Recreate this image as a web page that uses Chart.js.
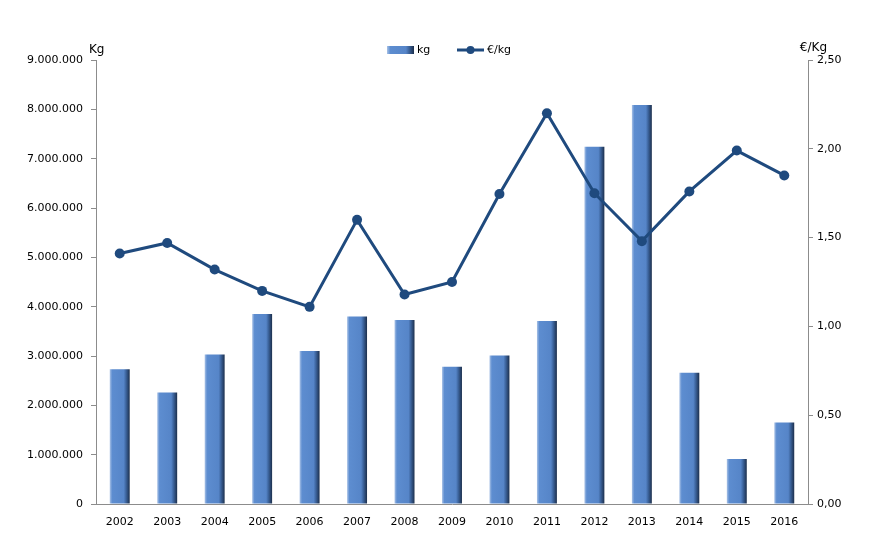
<!DOCTYPE html>
<html>
<head>
<meta charset="utf-8">
<script src="https://cdn.jsdelivr.net/npm/chart.js@4/dist/chart.umd.min.js"></script>
<style>
  html, body { margin: 0; padding: 0; background: #ffffff; }
  #wrap { width: 892px; height: 560px; }
</style>
</head>
<body>
<div id="wrap"><canvas id="c" width="892" height="560"></canvas></div>
<script>
const years = ['2002','2003','2004','2005','2006','2007','2008','2009','2010','2011','2012','2013','2014','2015','2016'];
const kg = [2730000, 2260000, 3030000, 3850000, 3100000, 3800000, 3730000, 2780000, 3010000, 3710000, 7240000, 8090000, 2660000, 910000, 1650000];
const eurPerKg = [1.41, 1.47, 1.32, 1.20, 1.11, 1.60, 1.18, 1.25, 1.745, 2.20, 1.75, 1.48, 1.76, 1.99, 1.85];
const leftTitle = 'Kg';
const rightTitle = '€/Kg';
const seriesNames = ['kg', '€/kg'];

const FONT = '"DejaVu Sans", Verdana, sans-serif';
const LINE_COLOR = '#1f4a7e';
const AXIS_COLOR = '#8c8c8c';

function barGradient(ctx, x0, x1) {
  const g = ctx.createLinearGradient(x0, 0, x1, 0);
  g.addColorStop(0, '#a9c2e6');
  g.addColorStop(0.12, '#5d8dd0');
  g.addColorStop(0.7, '#5685c8');
  g.addColorStop(0.82, '#3b629a');
  g.addColorStop(1, '#1c2f4c');
  return g;
}

const fmtThousands = v => {
  const s = Math.round(v).toString();
  return s.replace(/\B(?=(\d{3})+(?!\d))/g, '.');
};
const fmtComma = v => v.toFixed(2).replace('.', ',');

const overlay = {
  id: 'overlay',
  afterDraw(chart) {
    const c = chart.ctx;
    const a = chart.chartArea;
    c.save();
    c.fillStyle = '#000';
    c.font = '12px ' + FONT;
    c.textBaseline = 'bottom';
    c.textAlign = 'left';
    c.fillText(leftTitle, a.left - 7, a.top - 4);
    c.textAlign = 'right';
    c.fillText(rightTitle, a.right + 19, a.top - 6);
    // legend
    const ly = 50;
    const bx = 387;
    c.fillStyle = barGradient(c, bx, bx + 27);
    c.fillRect(bx, ly - 4, 27, 8);
    c.fillStyle = '#000';
    c.font = '11px ' + FONT;
    c.textAlign = 'left';
    c.textBaseline = 'middle';
    c.fillText(seriesNames[0], bx + 30, ly);
    const lx = 457;
    c.strokeStyle = LINE_COLOR;
    c.lineWidth = 3;
    c.beginPath();
    c.moveTo(lx, ly);
    c.lineTo(lx + 27, ly);
    c.stroke();
    c.fillStyle = LINE_COLOR;
    c.beginPath();
    c.arc(lx + 13.5, ly, 4, 0, Math.PI * 2);
    c.fill();
    c.fillStyle = '#000';
    c.fillText(seriesNames[1], lx + 30, ly);
    c.restore();
  }
};

new Chart(document.getElementById('c'), {
  data: {
    labels: years,
    datasets: [
      {
        type: 'line',
        label: seriesNames[1],
        data: eurPerKg,
        yAxisID: 'y2',
        borderColor: LINE_COLOR,
        backgroundColor: LINE_COLOR,
        borderWidth: 3,
        pointRadius: 5,
        pointHoverRadius: 5,
        pointBackgroundColor: LINE_COLOR,
        pointBorderWidth: 0,
        tension: 0,
        order: 0
      },
      {
        type: 'bar',
        label: seriesNames[0],
        data: kg,
        yAxisID: 'y',
        barPercentage: 0.42,
        categoryPercentage: 1,
        borderWidth: 0,
        backgroundColor: (ctx) => {
          const chart = ctx.chart;
          const xs = chart.scales && chart.scales.x;
          if (!xs || !chart.chartArea || ctx.dataIndex === undefined) return '#5685c8';
          const cx = xs.getPixelForValue(ctx.dataIndex);
          const w = xs.width / years.length * 0.42;
          return barGradient(chart.ctx, cx - w / 2, cx + w / 2);
        },
        order: 1
      }
    ]
  },
  options: {
    responsive: false,
    animation: false,
    events: [],
    layout: { padding: { left: 10, right: 10, top: 60, bottom: 10 } },
    plugins: { legend: { display: false }, tooltip: { enabled: false } },
    scales: {
      x: {
        type: 'category',
        offset: true,
        grid: { display: false, drawTicks: false },
        border: { display: true, color: AXIS_COLOR, width: 1 },
        ticks: { color: '#000', font: { family: FONT, size: 11 }, padding: 12, maxRotation: 0 },
        afterFit: s => { s.height = 46; }
      },
      y: {
        position: 'left',
        min: 0, max: 9000000,
        ticks: { stepSize: 1000000, color: '#000', font: { family: FONT, size: 11 }, padding: 8, callback: v => fmtThousands(v) },
        grid: { drawOnChartArea: false, drawTicks: true, tickLength: 5, color: AXIS_COLOR },
        border: { display: true, color: AXIS_COLOR, width: 1 },
        afterFit: s => { s.width = 86; }
      },
      y2: {
        position: 'right',
        min: 0, max: 2.5,
        ticks: { stepSize: 0.5, color: '#000', font: { family: FONT, size: 11 }, padding: 4, callback: v => fmtComma(v) },
        grid: { drawOnChartArea: false, drawTicks: true, tickLength: 5, color: AXIS_COLOR },
        border: { display: true, color: AXIS_COLOR, width: 1 },
        afterFit: s => { s.width = 74; }
      }
    }
  },
  plugins: [overlay]
});
</script>
</body>
</html>
